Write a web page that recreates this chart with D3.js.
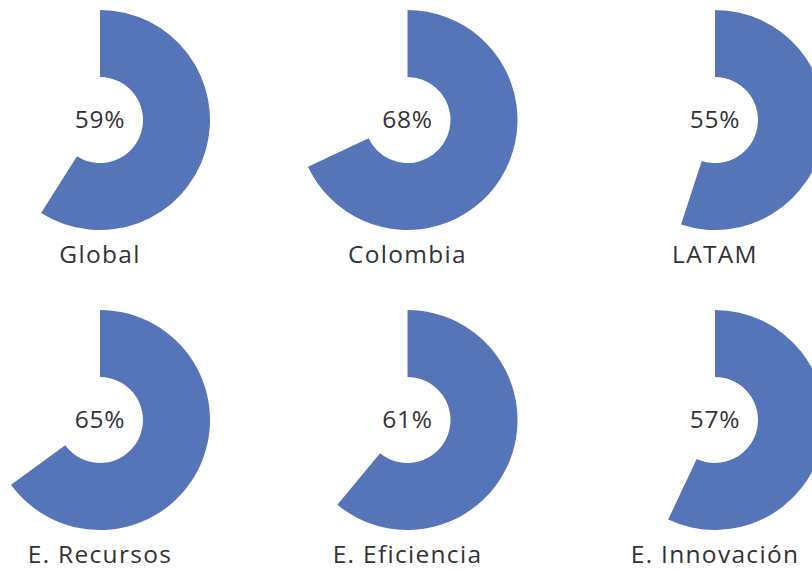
<!DOCTYPE html>
<html>
<head>
<meta charset="utf-8">
<script src="https://cdn.jsdelivr.net/npm/d3@7"></script>
<style>
  html, body { margin: 0; padding: 0; background: #ffffff; overflow: hidden; }
  svg { display: block; }
</style>
</head>
<body>
<svg id="chart" width="812" height="571"></svg>
<script>
const categories = ["Global", "Colombia", "LATAM", "E. Recursos", "E. Eficiencia", "E. Innovación"];
const values = [59, 68, 55, 65, 61, 57];

const W = 812, H = 571;
const svg = d3.select("#chart");

const col = d3.scalePoint().domain([0, 1, 2]).range([100, 715]);
const row = d3.scalePoint().domain([0, 1]).range([120, 420]);
const angle = d3.scaleLinear().domain([0, 100]).range([0, 2 * Math.PI]);

const outerR = 110, innerR = 43;
const arc = d3.arc().innerRadius(innerR).outerRadius(outerR).startAngle(0);

const fontFamily = "'Open Sans', 'Noto Sans', sans-serif";

categories.forEach((cat, i) => {
  const cx = col(i % 3), cy = row(Math.floor(i / 3));
  const g = svg.append("g").attr("transform", `translate(${cx},${cy})`);
  g.append("path")
    .attr("d", arc({ endAngle: angle(values[i]) }))
    .attr("fill", "#5675b9");
  g.append("text")
    .attr("x", 0).attr("y", 8)
    .attr("text-anchor", "middle")
    .attr("font-family", fontFamily)
    .attr("font-size", 24.5)
    .attr("font-weight", 400)
    .attr("letter-spacing", 0.8)
    .attr("fill", "#333333")
    .text(values[i] + "%");
  g.append("text")
    .attr("x", 0).attr("y", 143)
    .attr("text-anchor", "middle")
    .attr("font-family", fontFamily)
    .attr("font-size", 24.5)
    .attr("font-weight", 400)
    .attr("letter-spacing", 1.3)
    .attr("fill", "#333333")
    .text(cat);
});
</script>
</body>
</html>
